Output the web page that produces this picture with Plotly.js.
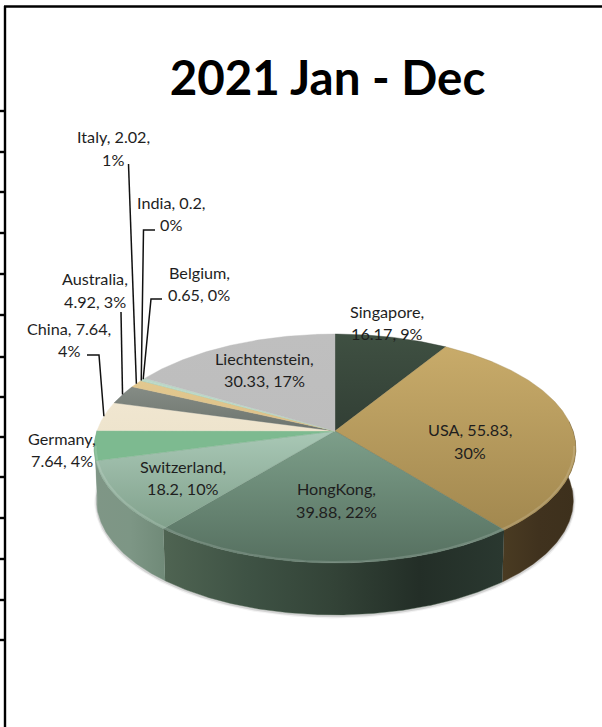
<!DOCTYPE html>
<html>
<head>
<meta charset="utf-8">
<script src="https://cdn.plot.ly/plotly-3.0.1.min.js"></script>
<style>html,body{margin:0;padding:0;background:#fff}#chart{width:602px;height:727px}</style>
</head>
<body>
<div id="chart"></div>
<script>
// Export destinations for the year, clockwise from twelve o'clock.
const countries = ["Singapore","USA","HongKong","Switzerland","Germany","China","Australia","Italy","India","Belgium","Liechtenstein"];
const values = [16.17,55.83,39.88,18.2,7.64,7.64,4.92,2.02,0.2,0.65,30.33];
// How many comma-separated parts each label keeps on its first line.
const firstLineParts = [1,2,1,1,1,2,1,2,2,1,1];

// Top face colours, as [lower, upper] gradient stops on screen.
const topColors = [
  ["#323f35","#3f5042"],["#a2884f","#c8ab6a"],["#567060","#7d9f8a"],["#80a08b","#a9c8b6"],
  ["#7dba90","#7dba90"],["#eee4cd","#f0e6d0"],["#6d746e","#858c85"],["#dcc088","#e2c88f"],
  ["#a9cfb8","#a9cfb8"],["#bcd8c8","#bcd8c8"],["#bdbdbd","#bfbfbf"]
];
// Side wall colours, left to right.
const wallColors = {
  USA: ["#4a3b22","#40321e","#3d301c"],
  HongKong: ["#4f6452","#3e5244","#334337","#232e27","#2a3830"],
  Switzerland: ["#7f9686","#7d9685","#708a78"],
  Germany: ["#7f9686","#7f9686"]
};

// Label placement and leader routes on the page.
const labelCentres = [[386.5,322.5],[469.5,441],[336,500],[183,477.5],[62,449.5],[69,339.5],[95,290],[113,148],[171,213.5],[199,283.5],[264,369.5]];
const labelLineGap = 22.5;
const leaderElbows = {
  China: [[87,355],[99,355]],
  Australia: [[121,312]],
  Italy: [[128.5,164]],
  India: [[155,230],[143.5,230]],
  Belgium: [[162,299],[151,299]]
};
// Row rules at the left edge of the sheet.
const sheetRules = [111,152,192,233,274,315,357,397,437,477,518,559,600,640];

// Perspective projection of the pie disc onto the page.
const geo = {cx:335, cy:431, rx:238, ry:111.8, tilt:0.1529, depth:52, baseRx:235.5};
const total = values.reduce((a,b)=>a+b,0);

function project(deg, rx, dy){
  const t = deg*Math.PI/180, u = Math.sin(t), v = Math.cos(t), d = 1+geo.tilt*v;
  return [geo.cx+rx*u/d, geo.cy+dy-geo.ry*v/d];
}
function arc(from, to, rx, dy){
  const n = Math.max(2, Math.ceil(Math.abs(to-from)*2)), pts = [];
  for(let i=0;i<=n;i++) pts.push(project(from+(to-from)*i/n, rx, dy));
  return pts;
}
function polygon(pts, gradient, name){
  return {type:"scatter", mode:"lines", name, x:pts.map(p=>p[0]), y:pts.map(p=>p[1]),
    fill:"toself", line:{width:0.4,color:gradient.colorscale[0][1]}, fillgradient:gradient,
    hoverinfo:"name", showlegend:false};
}
function stops(cols){
  return cols.map((c,i)=>[i/(cols.length-1),c]);
}

// Angular extent of every slice.
const spans = [];
let run = 0;
values.forEach(v=>{spans.push([run/total*360,(run+v)/total*360]); run += v;});

const traces = [];

// Soft contact shadow under the disc.
[[5,"rgba(0,0,0,0.05)"],[2.5,"rgba(0,0,0,0.12)"]].forEach(([w,c])=>{
  const s = arc(92,268,geo.baseRx,geo.depth+1);
  traces.push({type:"scatter",mode:"lines",x:s.map(p=>p[0]),y:s.map(p=>p[1]),
    line:{width:w,color:c},hoverinfo:"skip",showlegend:false});
});

// Side walls, only where the rim faces the viewer.
countries.forEach((name,i)=>{
  if(!wallColors[name]) return;
  const a = Math.max(spans[i][0],85), b = Math.min(spans[i][1],275);
  if(b<=a) return;
  const pts = arc(a,b,geo.rx,0).concat(arc(b,a,geo.baseRx,geo.depth));
  traces.push(polygon(pts,{type:"horizontal",colorscale:stops(wallColors[name])},name+" wall"));
});

// Top face wedges, each from the apex out to its stretch of rim.
countries.forEach((name,i)=>{
  const pts = [[geo.cx,geo.cy]].concat(arc(spans[i][0],spans[i][1],geo.rx,0));
  pts.push([geo.cx,geo.cy]);
  traces.push(polygon(pts,{type:"vertical",colorscale:stops(topColors[i])},name));
});

// Bevel highlight along the rim.
const glow = arc(98,262,geo.rx-1.5,-1);
traces.push({type:"scatter",mode:"lines",x:glow.map(p=>p[0]),y:glow.map(p=>p[1]),
  line:{width:2,color:"rgba(255,255,255,0.14)"},hoverinfo:"skip",showlegend:false});

// Leader lines end on the middle of their slice's rim.
const shapes = [];
countries.forEach((name,i)=>{
  if(!leaderElbows[name]) return;
  const end = project((spans[i][0]+spans[i][1])/2,geo.rx,0);
  const path = leaderElbows[name].concat([end]);
  traces.push({type:"scatter",mode:"lines",x:path.map(p=>p[0]),y:path.map(p=>p[1]),
    line:{width:1.5,color:"#111"},hoverinfo:"skip",showlegend:false});
});

// Sheet frame.
const rule = (x0,y0,x1,y1)=>({type:"line",xref:"x",yref:"y",x0,y0,x1,y1,line:{color:"#000",width:2.4},layer:"below"});
shapes.push(rule(5,6,5,727),rule(4,6.5,602,6.5));
sheetRules.forEach(y=>shapes.push(rule(0,y,5,y)));

// Data labels: "name, value, percent%", one annotation per line for exact leading.
const annotations = [];
countries.forEach((name,i)=>{
  const parts = [name, String(values[i]), Math.round(values[i]/total*100)+"%"];
  const lines = [parts.slice(0,firstLineParts[i]).join(", ")+",", parts.slice(firstLineParts[i]).join(", ")];
  lines.forEach((text,k)=>annotations.push({
    x:labelCentres[i][0], y:labelCentres[i][1]+(k-0.5)*labelLineGap, xref:"x", yref:"y", text,
    showarrow:false, xanchor:"center", yanchor:"middle", align:"center",
    font:{family:"Lato, Carlito, sans-serif",size:16.2,color:"#1e1e1e"}
  }));
});

const layout = {
  width:602,height:727,margin:{l:0,r:0,t:0,b:0},
  paper_bgcolor:"#fff",plot_bgcolor:"#fff",showlegend:false,
  title:{text:"<b>2021 Jan - Dec</b>",x:327.5/602,xanchor:"center",y:1-78/727,yanchor:"middle",
    font:{family:"Lato, Carlito, sans-serif",size:47.5,color:"#000"}},
  xaxis:{visible:false,range:[0,602],fixedrange:true},
  yaxis:{visible:false,range:[727,0],fixedrange:true},
  shapes,annotations
};
Plotly.newPlot("chart",traces,layout,{displayModeBar:false,responsive:false});
</script>
</body>
</html>
